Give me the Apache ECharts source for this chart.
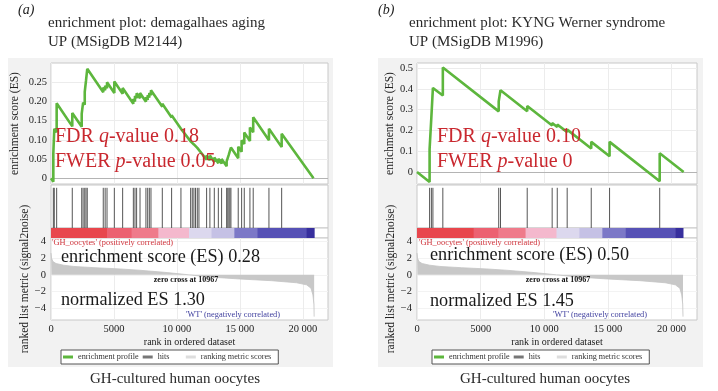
<!DOCTYPE html>
<html><head><meta charset="utf-8">
<script src="https://cdn.jsdelivr.net/npm/echarts@6/dist/echarts.min.js"></script>
<style>html,body{margin:0;padding:0;background:#fff}#c{width:718px;height:391px}</style>
</head><body><div id="c"></div>
<script>
// ---------------- data ----------------
const panelLetters = ['(a)', '(b)'];
const titleLine1 = ['enrichment plot: demagalhaes aging', 'enrichment plot: KYNG Werner syndrome'];
const titleLine2 = ['UP (MSigDB M2144)', 'UP (MSigDB M1996)'];
const fdrValues = ['0.18', '0.10'];
const fwerValues = ['0.05', '0'];
const esValues = ['0.28', '0.50'];
const nesValues = ['1.30', '1.45'];
const zeroCross = 10967;
const caption = 'GH-cultured human oocytes';

// running enrichment score, panel (a): [rank, ES]
const esA = [
 [0,0],[185,-0.009],[185,0.065],[260,0.061],[260,0.129],[450,0.120],[450,0.195],
 [1690,0.135],[1690,0.170],[2440,0.134],[2440,0.168],[2550,0.163],[2550,0.197],
 [2680,0.191],[2680,0.225],[2780,0.220],[2780,0.254],[2880,0.250],[2880,0.285],
 [4150,0.224],[4150,0.236],[4300,0.229],[4300,0.241],[4450,0.234],[4450,0.250],
 [5030,0.222],[5030,0.252],[5690,0.220],[5690,0.235],[6540,0.194],[6540,0.206],
 [6670,0.200],[6670,0.214],[6800,0.208],[6800,0.221],[7070,0.208],[7070,0.222],
 [7540,0.199],[7540,0.211],[7680,0.204],[7680,0.216],[7810,0.210],[7810,0.222],
 [7940,0.216],[7940,0.229],[8840,0.186],[8840,0.194],[9580,0.158],[9580,0.164],
 [10320,0.129],[10320,0.133],[11090,0.096],[11090,0.098],[11220,0.092],[11220,0.094],
 [11350,0.088],[11350,0.090],[11480,0.084],[11480,0.086],[11620,0.079],[11620,0.081],
 [11750,0.075],[11750,0.077],[12360,0.048],[12360,0.060],[12620,0.047],[12620,0.059],
 [12970,0.042],[12970,0.054],[13290,0.039],[13290,0.051],[13550,0.038],[13550,0.050],
 [13950,0.031],[13950,0.044],[14040,0.040],[14040,0.053],[14130,0.049],[14130,0.062],
 [14210,0.058],[14210,0.071],[14290,0.067],[14290,0.080],[14870,0.052],[14870,0.082],
 [15140,0.069],[15140,0.099],[15350,0.089],[15350,0.119],[15800,0.097],[15800,0.132],
 [16060,0.120],[16060,0.159],[17310,0.099],[17310,0.129],[18320,0.081],[18320,0.116],
 [20850,0]
];
// running enrichment score, panel (b)
const esB = [
 [0,0],[990,-0.048],[990,0.110],[1130,0.103],[1130,0.266],[1250,0.260],[1250,0.405],
 [2030,0.368],[2030,0.503],[6420,0.292],[6420,0.340],[6560,0.333],[6560,0.394],
 [8660,0.293],[8660,0.318],[10620,0.224],[10620,0.236],[11020,0.217],[11020,0.229],
 [11800,0.192],[11800,0.204],[13690,0.113],[13690,0.145],[15130,0.076],[15130,0.145],
 [19070,-0.045],[19070,0.090],[20950,0]
];
// gene-set hit ranks
const hitsA = [185,260,450,1690,2440,2550,2680,2780,2880,4150,4300,4450,5030,5690,6540,6670,6800,7070,
 7540,7680,7810,7940,8840,9580,10320,11090,11220,11350,11480,11620,11750,12360,12620,12970,13290,13550,
 13950,14040,14130,14210,14290,14870,15140,15350,15800,16060,17310,18320];
const hitsB = [990,1130,1250,2030,6420,6560,8660,10620,11020,11800,13690,15130,19070];
// ranked list metric (signal2noise): [rank, score]
const metric = [
 [0,2.6],[40,2.0],[150,1.6],[400,1.35],[1000,1.15],[1800,1.0],[3500,0.85],[5500,0.7],
 [7000,0.55],[9000,0.3],[10967,0],[12500,-0.25],[15000,-0.5],[17500,-0.7],[19500,-0.95],
 [20300,-1.2],[20650,-1.6],[20800,-2.4],[20880,-3.5],[20900,-5.0]
];
// colour bar (rank edges) and colours
const barEdges = [0,4450,6400,8530,10960,12750,14560,16400,20300,20900];
const barColors = ['#e8464d','#ec6171','#ef7b8b','#f4b8cd','#dcd8ee','#c5c1e5','#7c78c7','#5651b5','#372f9d'];
// tick values
const rankTicks = [0,5000,10000,15000,20000];
const esTicksA = [0,0.05,0.10,0.15,0.20,0.25];
const esTicksB = [0,0.1,0.2,0.3,0.4,0.5];
const metricTicks = [-4,-2,0,2,4];

// ---------------- layout ----------------
const SERIF = '"Liberation Serif","Times New Roman",serif';
const GREEN = '#5db63d';
const RED = '#c9282f';
const P = [
  {es: esA, hits: hitsA, esTicks: esTicksA, esMin: -0.015, esMax: 0.3, dec: 2,
   left: 51, width: 277, box: 8, letterX: 18, titleX: 48, redX: 55, blackX: 61, esY: 257, nesY: 300,
   posX: 52, zeroX: 186, wtX: 233, capX: 175, legendLeft: 61, esNameGap: 30, mNameGap: 20},
  {es: esB, hits: hitsB, esTicks: esTicksB, esMin: -0.058, esMax: 0.525, dec: 1,
   left: 417, width: 280, box: 378, letterX: 378, titleX: 409, redX: 437, blackX: 430, esY: 255, nesY: 301,
   posX: 419, zeroX: 558, wtX: 600, capX: 545, legendLeft: 432, esNameGap: 21, mNameGap: 18}
];

const grids = [], xAxes = [], yAxes = [], series = [], graphics = [], legends = [];
const minus = s => String(s).replace('-', '\u2212');

P.forEach((p, i) => {
  const g = grids.length;
  const gb = {show: true, backgroundColor: '#fff', borderColor: '#c8c8c8', borderWidth: 1, left: p.left, width: p.width, outerBoundsMode: 'none'};
  grids.push(Object.assign({}, gb, {top: 63, height: 121}));
  grids.push(Object.assign({}, gb, {top: 185, height: 43}));
  grids.push(Object.assign({}, gb, {top: 228, height: 10}));
  grids.push(Object.assign({}, gb, {top: 238, height: 82}));

  for (let k = 0; k < 4; k++) {
    const isMetric = k === 3;
    const showSplit = k === 0 || k === 3;
    xAxes.push({
      type: 'value', gridIndex: g + k, min: 0, max: 22000,
      axisLine: {show: false},
      axisTick: {show: false, customValues: rankTicks},
      axisLabel: {show: isMetric, customValues: rankTicks, margin: 4, fontSize: 10.5, fontFamily: SERIF, color: '#222',
        formatter: v => v >= 10000 ? String(v).slice(0, 2) + ' ' + String(v).slice(2) : String(v)},
      splitLine: {show: showSplit, lineStyle: {color: '#ececec', width: 1}},
      name: isMetric ? 'rank in ordered dataset' : '', nameLocation: 'middle', nameGap: 17,
      nameTextStyle: {fontSize: 10, fontFamily: SERIF, color: '#222'}
    });
  }
  // ES axis
  yAxes.push({
    type: 'value', gridIndex: g, min: p.esMin, max: p.esMax,
    axisLine: {show: false}, axisTick: {show: false, customValues: p.esTicks},
    axisLabel: {customValues: p.esTicks, margin: 4, fontSize: 10.5, fontFamily: SERIF, color: '#222',
      formatter: v => v === 0 ? '0' : v.toFixed(p.dec)},
    splitLine: {show: true, lineStyle: {color: '#ececec'}},
    name: 'enrichment score (ES)', nameLocation: 'middle', nameGap: p.esNameGap,
    nameTextStyle: {fontSize: 11.5, fontFamily: SERIF, color: '#222'}
  });
  yAxes.push({type: 'value', gridIndex: g + 1, min: 0, max: 1.07, show: false});
  yAxes.push({type: 'value', gridIndex: g + 2, min: 0, max: 1, show: false});
  yAxes.push({
    type: 'value', gridIndex: g + 3, min: -5.4, max: 4.4,
    axisLine: {show: false}, axisTick: {show: false, customValues: metricTicks},
    axisLabel: {customValues: metricTicks, margin: 5, fontSize: 10.5, fontFamily: SERIF, color: '#222', formatter: v => minus(v)},
    splitLine: {show: true, lineStyle: {color: '#f3f3f3'}},
    name: 'ranked list metric (signal2noise)', nameLocation: 'middle', nameGap: p.mNameGap,
    nameTextStyle: {fontSize: 11.5, fontFamily: SERIF, color: '#222'}
  });

  series.push({
    name: 'ranking metric scores', type: 'line', xAxisIndex: g + 3, yAxisIndex: g + 3, data: metric,
    symbol: 'none', lineStyle: {color: '#c4c4c4', width: 0.8}, areaStyle: {color: '#c8c8c8', opacity: 1},
    itemStyle: {color: '#dcdcdc'}, silent: true
  });
  series.push({
    name: 'enrichment profile', type: 'line', xAxisIndex: g, yAxisIndex: g, data: p.es,
    symbol: 'none', lineStyle: {color: GREEN, width: 2.6}, itemStyle: {color: GREEN}, z: 5,
    markLine: {silent: true, symbol: 'none', label: {show: false}, lineStyle: {color: '#b4b4b4', type: 'solid', width: 1},
      data: [{yAxis: 0}]}
  });
  series.push({
    name: 'hits', type: 'custom', xAxisIndex: g + 1, yAxisIndex: g + 1,
    data: p.hits.map(h => [h, 1]), encode: {x: 0, y: 1}, itemStyle: {color: '#666'},
    renderItem: (params, api) => {
      const a = api.coord([api.value(0), 0]);
      const b = api.coord([api.value(0), 1]);
      return {type: 'line', shape: {x1: a[0], y1: a[1], x2: b[0], y2: b[1]}, style: {stroke: '#555', lineWidth: 1}};
    }
  });
  const segs = [];
  for (let k = 0; k < barColors.length; k++) segs.push([barEdges[k], barEdges[k + 1], k, 0]);
  series.push({
    name: 'colour bar', type: 'custom', xAxisIndex: g + 2, yAxisIndex: g + 2,
    data: segs, encode: {x: [0, 1], y: 3}, silent: true,
    renderItem: (params, api) => {
      const a = api.coord([api.value(0), 0]);
      const b = api.coord([api.value(1), 1]);
      return {type: 'rect', shape: {x: a[0], y: b[1], width: b[0] - a[0] + 0.5, height: a[1] - b[1]},
        style: {fill: barColors[api.value(2)]}};
    }
  });

  legends.push({
    left: p.legendLeft, top: 350, selectedMode: false, borderColor: '#555', borderWidth: 1, borderRadius: 0,
    backgroundColor: '#fff', padding: [3, 7, 3, 2], itemGap: 4, itemWidth: 10, itemHeight: 3,
    textStyle: {fontFamily: SERIF, fontSize: 8.2, color: '#333'},
    formatter: n => n === 'hits' ? 'hits      ' : n,
    data: [
      {name: 'enrichment profile', icon: 'rect', itemStyle: {color: GREEN}},
      {name: 'hits', icon: 'rect', itemStyle: {color: '#777'}},
      {name: 'ranking metric scores', icon: 'rect', itemStyle: {color: '#dddddd'}}
    ]
  });

  // decorations and annotations
  graphics.push({type: 'rect', z: -100, shape: {x: p.box, y: 58, width: 325, height: 309}, style: {fill: '#f2f2f2'}});
  const T = (x, y, text, size, fill, extra) => graphics.push({
    type: 'text', x: x, y: y, z: 100,
    style: Object.assign({text: text, fontFamily: SERIF, fontSize: size, fill: fill, verticalAlign: 'middle', align: 'left'}, extra || {})
  });
  T(p.letterX, 10, panelLetters[i], 14, '#222', {fontStyle: 'italic'});
  T(p.titleX, 23, titleLine1[i], 15, '#2a2a2a');
  T(p.titleX, 42, titleLine2[i], 15, '#2a2a2a');
  const richRed = (pre, it, post) => ({
    text: '{n|' + pre + '}{i|' + it + '}{n|' + post + '}',
    rich: {n: {fontFamily: SERIF, fontSize: 20, fill: RED}, i: {fontFamily: SERIF, fontSize: 20, fill: RED, fontStyle: 'italic'}}
  });
  T(p.redX, 137, '', 20, RED, richRed('FDR ', 'q', '-value ' + fdrValues[i]));
  T(p.redX, 162, '', 20, RED, richRed('FWER ', 'p', '-value ' + fwerValues[i]));
  T(p.blackX, p.esY, 'enrichment score (ES) ' + esValues[i], 18.2, '#1a1a1a');
  T(p.blackX, p.nesY, 'normalized ES ' + nesValues[i], 18.2, '#1a1a1a');
  T(p.posX, 242.5, "'GH_oocytes' (positively correlated)", 8.4, '#d0343c');
  T(p.zeroX, 279.5, 'zero cross at ' + zeroCross, 8, '#111', {align: 'center', fontWeight: 'bold'});
  T(p.wtX, 315, "'WT' (negatively correlated)", 8.4, '#3f3f9e', {align: 'center'});
  T(p.capX, 379, caption, 15, '#2a2a2a', {align: 'center'});
});

const chart = echarts.init(document.getElementById('c'), null, {renderer: 'canvas', width: 718, height: 391});
chart.setOption({
  animation: false,
  backgroundColor: '#ffffff',
  grid: grids, xAxis: xAxes, yAxis: yAxes, series: series, legend: legends, graphic: graphics
});
</script>
</body></html>
